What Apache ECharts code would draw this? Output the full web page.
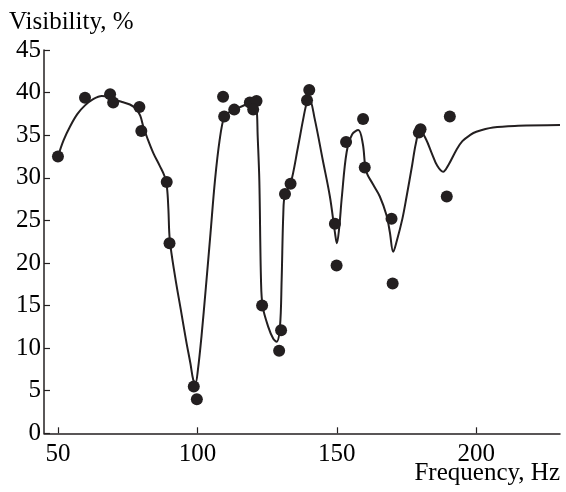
<!DOCTYPE html>
<html>
<head>
<meta charset="utf-8">
<script src="https://cdn.jsdelivr.net/npm/echarts@6/dist/echarts.min.js"></script>
<style>html,body{margin:0;padding:0;background:#fff;}#c{width:566px;height:492px;}</style>
</head>
<body>
<div id="c"></div>
<script>
// Measured points (frequency, Hz / visibility, %)
const freqX = [50, 59.7, 68.7, 69.8, 79.2, 79.9, 89, 90, 98.7, 99.8, 109.2, 109.6, 113.2, 118.8, 121.2, 120,
  123.2, 129.3, 130, 131.4, 133.4, 139.3, 140.1, 149.3, 149.9, 153.3, 159.4, 160, 169.6, 170, 180, 179.4, 190.5, 189.4];
const visY = [32.5, 39.4, 39.8, 38.85, 38.3, 35.5, 29.5, 22.3, 5.5, 4.0, 39.5, 37.2, 38.0, 38.85, 39.0, 38.0,
  15.0, 9.7, 12.1, 28.1, 29.3, 39.1, 40.3, 24.6, 19.7, 34.2, 36.9, 31.2, 25.2, 17.6, 35.7, 35.3, 37.2, 27.8];
// Fitted curve
const curveX = [50, 52, 54.3, 57, 59.7, 62.5, 65.7, 68, 70, 73, 75.8, 78, 79.5, 80.6, 82, 84.2, 86.5, 88.2, 89.1, 89.6, 90.1,
  92, 94, 96, 97.5, 98.5, 99.3, 100.2, 101.5, 103, 104.7, 106.3, 108, 109.6, 111, 113.2, 116, 118.8, 120.3, 121.2, 121.6,
  122.2, 122.8, 123.4, 125.4, 127.2, 128.4, 129.6, 130.2, 130.8, 131.4, 133.4, 136, 138, 139.3, 140.2, 142, 145, 147.5,
  149.3, 150, 150.8, 151.8, 153.5, 155.5, 157.7, 159.3, 160.5, 163, 165.4, 167.8, 169, 170.2, 171.5, 173.5, 175, 177,
  178.3, 179.8, 182, 184, 186, 188.1, 190, 192.9, 195, 197.7, 200, 206, 215, 230];
const curveY = [32.5, 34.4, 36.0, 37.5, 38.5, 39.2, 39.6, 39.5, 39.2, 38.9, 38.6, 38.1, 37.3, 36.0, 34.7, 32.9, 31.4, 30.2, 28.8, 26.3, 22.7,
  18.4, 14.6, 10.8, 8.2, 6.3, 5.9, 7.5, 11.5, 17.0, 23.5, 29.7, 34.5, 37.2, 37.6, 38.0, 38.4, 38.8, 38.9, 38.2, 35.0,
  29.7, 18.0, 14.9, 12.5, 11.1, 10.75, 12.5, 18.0, 25.8, 28.1, 29.3, 33.5, 37.0, 38.9, 39.2, 37.0, 32.0, 27.8,
  23.6, 22.3, 24.0, 27.8, 33.0, 35.1, 35.6, 34.0, 30.8, 29.2, 27.8, 25.6, 23.6, 21.3, 22.6, 25.2, 27.8, 31.5,
  34.0, 35.6, 34.5, 32.9, 31.4, 30.7, 31.5, 33.3, 34.3, 35.0, 35.4, 35.9, 36.1, 36.2];
const xTicks = [50, 100, 150, 200];
const yTicks = [0, 5, 10, 15, 20, 25, 30, 35, 40, 45];

const ink = '#231f20';
const font = '"Liberation Serif", "Times New Roman", Times, serif';
const chart = echarts.init(document.getElementById('c'), null, {renderer: 'canvas'});
chart.setOption({
  animation: false,
  backgroundColor: '#fff',
  grid: {left: 44, right: 6, top: 50, bottom: 58.7},
  xAxis: {
    type: 'value', min: 45, max: 230,
    axisLine: {lineStyle: {color: ink, width: 1.5}},
    axisTick: {inside: true, length: 6, lineStyle: {color: ink, width: 1.2}, customValues: xTicks},
    axisLabel: {color: '#000', fontFamily: font, fontSize: 25, margin: 9, customValues: xTicks},
    splitLine: {show: false}
  },
  yAxis: {
    type: 'value', min: 0, max: 45, interval: 5,
    axisLine: {show: true, lineStyle: {color: ink, width: 1.5}},
    axisTick: {show: true, inside: true, length: 6, lineStyle: {color: ink, width: 1.2}},
    axisLabel: {color: '#000', fontFamily: font, fontSize: 25, margin: 3,
      formatter: v => yTicks.indexOf(v) >= 0 ? String(v) : ''},
    splitLine: {show: false}
  },
  graphic: [
    {type: 'text', left: 9, top: 10, style: {text: 'Visibility, %', fontFamily: font, fontSize: 25, fill: '#000'}},
    {type: 'text', right: 6, top: 461, style: {text: 'Frequency, Hz', fontFamily: font, fontSize: 25, fill: '#000'}}
  ],
  series: [
    {
      type: 'line', data: curveX.map((x, i) => [x, curveY[i]]),
      showSymbol: false, smooth: 0.35, lineStyle: {color: ink, width: 2}, z: 2
    },
    {
      type: 'scatter', data: freqX.map((x, i) => [x, visY[i]]),
      symbol: 'circle', symbolSize: 12, itemStyle: {color: ink, opacity: 1}, z: 3
    }
  ]
});
</script>
</body>
</html>
